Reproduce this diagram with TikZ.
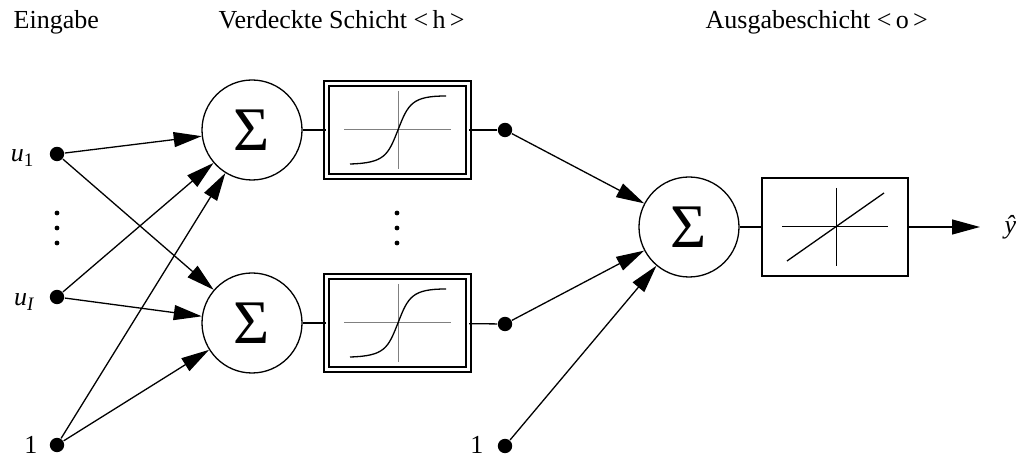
\documentclass[tikz,border=0pt]{standalone}
\usepackage{fontspec}
\setmainfont{Liberation Serif}
\usetikzlibrary{arrows.meta}
\begin{document}
\begin{tikzpicture}[x=0.5pt,y=-0.5pt,
  line width=0.65pt,
  every node/.style={font=\fontsize{13}{15}\selectfont},
  sumnode/.style={circle,draw,minimum size=50pt,inner sep=0pt,font=\fontsize{31}{33}\selectfont},
  actbox/.style={draw,double,double distance=1.8pt,minimum width=71pt,minimum height=46.5pt,inner sep=0pt},
  linbox/.style={draw,minimum width=73pt,minimum height=49pt,inner sep=0pt},
  dot/.style={circle,fill,inner sep=0pt,minimum size=7.2pt},
  arr/.style={-{Triangle[length=14pt,width=7.5pt]}},
  axis/.style={line width=0.5pt,gray},
  lbl/.style={inner sep=0pt},
]
\useasboundingbox (0,0) rectangle (1018,459);

% layer titles
\node[lbl,anchor=base west] (tin)  at (13,29)  {Eingabe};
\node[lbl,anchor=base west] (thid) at (218,29) {Verdeckte Schicht <\,h\,>};
\node[lbl,anchor=base west] (tout) at (705,29) {Ausgabeschicht <\,o\,>};

% inputs
\node[dot] (u1) at (57,154) {};
\node[dot] (uI) at (57,297) {};
\node[dot] (b1) at (57,445) {};
\node[lbl,anchor=base east] (lu1) at (34,162) {\textit{u}\raisebox{-2.5pt}{\fontsize{9.5}{10}\selectfont 1}};
\node[lbl,anchor=base east] (luI) at (34,306) {\textit{u}\raisebox{-2.5pt}{\fontsize{9.5}{10}\selectfont\itshape I}};
\node[lbl,anchor=base east] (lb1) at (38,454) {1};
\foreach \yy in {213,228,243} \fill (57,\yy) circle (1.2pt);

% hidden layer
\node[sumnode] (s1) at (252,130) {Σ};
\node[sumnode] (s2) at (252,323) {Σ};
\node[actbox] (f1) at (397.5,130) {};
\node[actbox] (f2) at (397.5,323) {};
\node[dot] (h1) at (505,130) {};
\node[dot] (h2) at (505,324) {};
\foreach \yy in {213,228,243} \fill (397,\yy) circle (1.2pt);

% sigmoid curves
\foreach \cy in {130,323}{
  \draw[axis] (344,\cy) -- (451,\cy);
  \draw[axis] (398,\cy-39) -- (398,\cy+39);
  \draw (350,\cy+34) .. controls (385,\cy+33) and (388,\cy+25) .. (398,\cy)
        .. controls (408,\cy-26) and (412,\cy-34) .. (446,\cy-34);
}

% output layer
\node[sumnode] (s3) at (689,227) {Σ};
\node[linbox] (lin) at (835,227) {};
\draw[line width=0.5pt] (782,227) -- (888,227);
\draw[line width=0.5pt] (836,188) -- (836,266);
\draw (787,261) -- (884,193);
\node[dot] (b2) at (505,446) {};
\node[lbl,anchor=base east] (lb2) at (484,454) {1};
\node[lbl,anchor=west] (yh) at (1004,227) {\itshape ŷ};

% connections
\draw[arr] (u1) -- (s1);
\draw[arr] (u1) -- (s2);
\draw[arr] (uI) -- (s1);
\draw[arr] (uI) -- (s2);
\draw[arr] (b1) -- (s1);
\draw[arr] (b1) -- (s2);
\draw (s1) -- (f1);
\draw (s2) -- (f2);
\draw (f1) -- (h1);
\draw (f2) -- (h2);
\draw[arr] (h1) -- (s3);
\draw[arr] (h2) -- (s3);
\draw[arr] (b2) -- (s3);
\draw (s3) -- (lin);
\draw[arr,shorten >=12pt] (lin.east) -- (yh.west);
\end{tikzpicture}
\end{document}
